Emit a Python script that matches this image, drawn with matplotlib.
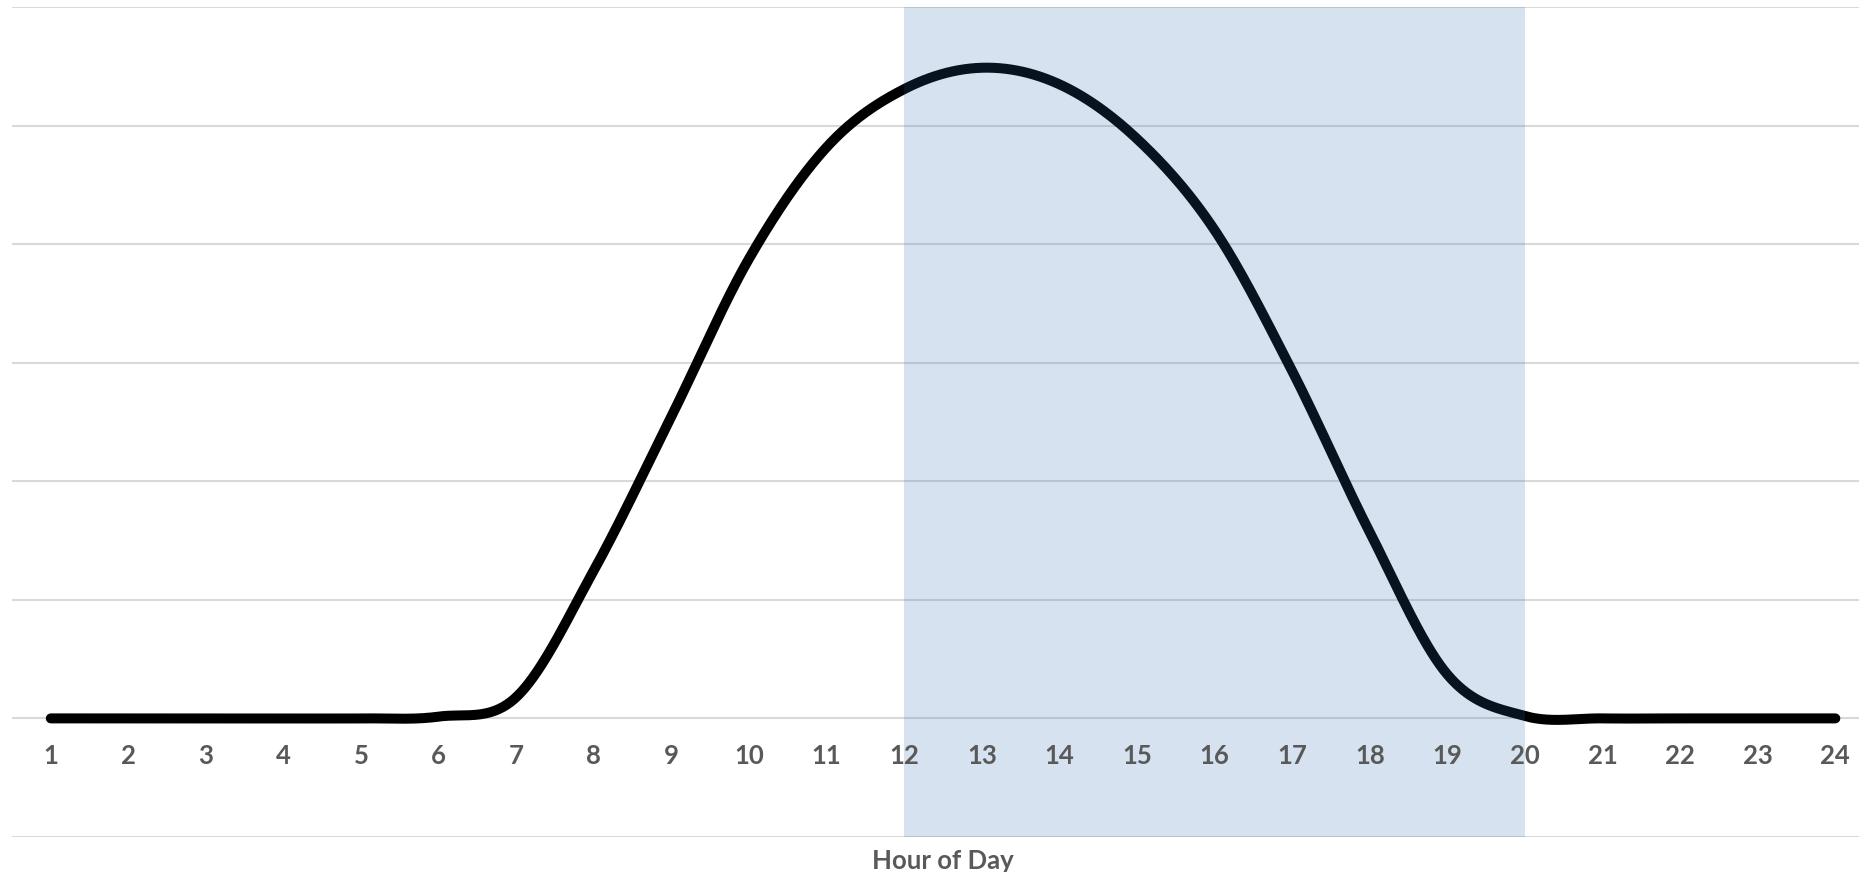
import numpy as np
import matplotlib.pyplot as plt

# Dados (horas do dia e valor relativo)
horas = list(range(1, 25))
valores = [0, 0, 0, 0, 0, 0.015, 0.18, 1.25, 2.55, 3.88, 4.82, 5.31,
           5.49, 5.35, 4.89, 4.12, 2.93, 1.57, 0.37, 0.02, 0, 0, 0, 0]
faixa_inicio, faixa_fim = 12, 20
titulo_x = "Hour of Day"


# Suavização no estilo do Excel (Catmull-Rom)
def suavizar(x, y, n=40):
    x = np.asarray(x, float)
    y = np.asarray(y, float)
    xs, ys = [], []
    for i in range(len(x) - 1):
        y0 = y[i - 1] if i > 0 else y[i]
        y3 = y[i + 2] if i + 2 < len(y) else y[i + 1]
        m1 = (y[i + 1] - y0) / 2
        m2 = (y3 - y[i]) / 2
        t = np.linspace(0, 1, n, endpoint=False)
        h00 = 2 * t**3 - 3 * t**2 + 1
        h10 = t**3 - 2 * t**2 + t
        h01 = -2 * t**3 + 3 * t**2
        h11 = t**3 - t**2
        xs.append(x[i] + t * (x[i + 1] - x[i]))
        ys.append(h00 * y[i] + h10 * m1 + h01 * y[i + 1] + h11 * m2)
    xs.append([x[-1]])
    ys.append([y[-1]])
    return np.concatenate(xs), np.concatenate(ys)


fig = plt.figure(figsize=(18.59, 8.72), dpi=100)
ax = fig.add_axes([12 / 1859, 35.1 / 872, 1 - 12 / 1859, (864.7 - 35.1) / 872])

xs, ys = suavizar(horas, valores)
ax.plot(xs, ys, color='black', linewidth=7.2, solid_capstyle='round', zorder=3)

# Faixa sombreada
ax.axvspan(faixa_inicio, faixa_fim, color=(42 / 255, 106 / 255, 170 / 255),
           alpha=0.19, linewidth=0, zorder=4)

ax.set_xlim(0.5, 24.305)
ax.set_ylim(-1, 6)
ax.set_yticks(range(-1, 7))
ax.set_yticklabels([])
ax.yaxis.grid(True, color='#d9d9d9', linewidth=1.5, zorder=1)
ax.set_axisbelow(True)
for s in ax.spines.values():
    s.set_visible(False)
ax.tick_params(length=0)
ax.set_xticks([])

# Rótulos das horas logo abaixo da linha zero
for h in horas:
    ax.text(h, -0.32, str(h), ha='center', va='center', fontsize=18.5,
            fontweight='bold', color='#595959', family='Lato', zorder=5)

ax.text(12.5, -1.2, titulo_x, ha='center', va='center', fontsize=18.5,
        fontweight='bold', color='#595959', family='Lato', clip_on=False)

plt.savefig("out.png", dpi=100)
